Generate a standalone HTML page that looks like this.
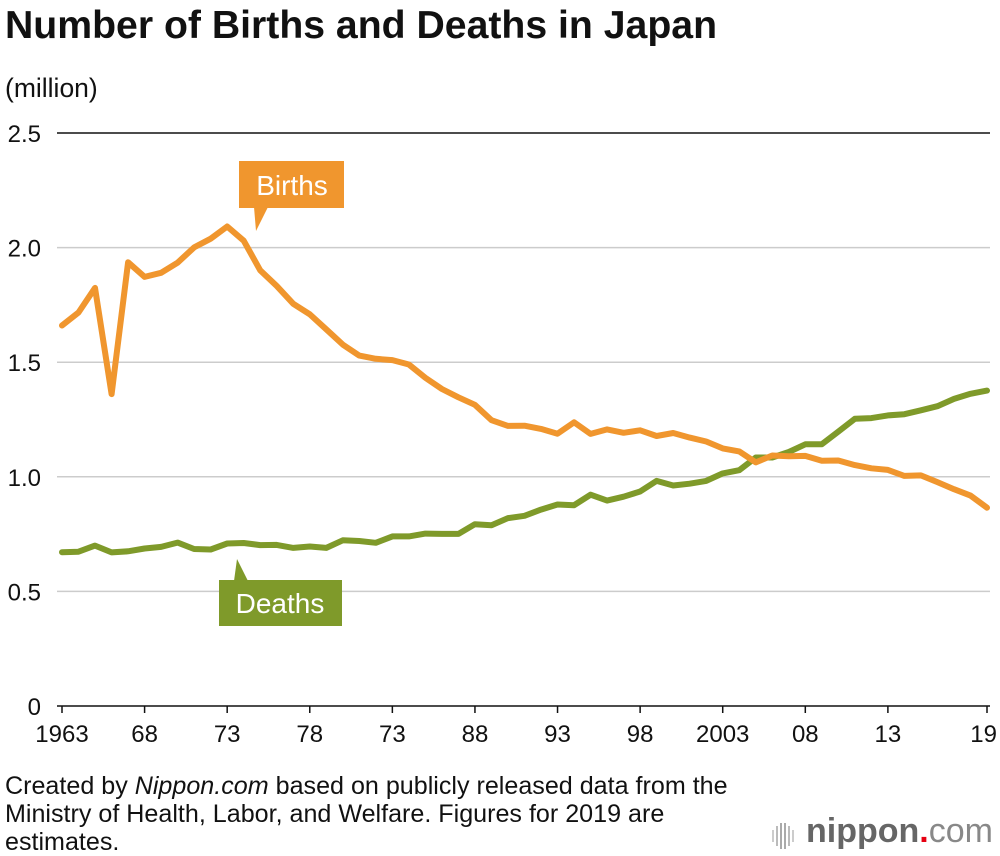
<!DOCTYPE html>
<html><head><meta charset="utf-8"><style>
body{margin:0;background:#fff;font-family:"Liberation Sans",sans-serif;}
#wrap{position:relative;width:1000px;height:856px;overflow:hidden;}
.t{position:absolute;margin:0;white-space:nowrap;}
</style></head><body>
<div id="wrap">
<div class="t" style="left:5px;top:4px;font-size:39.2px;font-weight:bold;color:#111;">Number of Births and Deaths in Japan</div>
<div class="t" style="left:5px;top:73px;font-size:26.5px;color:#111;">(million)</div>
<svg id="chart" width="1000" height="760" style="position:absolute;left:0;top:0" font-family="Liberation Sans, sans-serif"></svg>
<div class="t" style="left:5px;top:772px;font-size:25.1px;line-height:28px;color:#111;">Created by <i>Nippon.com</i> based on publicly released data from the<br>Ministry of Health, Labor, and Welfare. Figures for 2019 are<br>estimates.</div>
<div class="t" style="left:772px;top:816px;width:228px;height:36px;">
<svg width="26" height="34" style="position:absolute;left:0;top:3px">
<rect x="0" y="11" width="2" height="12" fill="#ccc"/><rect x="4" y="7" width="2" height="20" fill="#bbb"/><rect x="8" y="4" width="2" height="26" fill="#aaa"/><rect x="12" y="4" width="2" height="26" fill="#aaa"/><rect x="16" y="7" width="2" height="20" fill="#bbb"/><rect x="20" y="11" width="2" height="12" fill="#ccc"/></svg>
<span style="position:absolute;left:34px;top:-4px;font-size:34px;color:#666;font-weight:bold;">nippon<span style="color:#e60012">.</span><span style="font-weight:normal;color:#888">com</span></span>
</div>
</div>
<script>
const years=[];for(let y=1963;y<=2019;y++)years.push(y);
const births=[1.660,1.717,1.824,1.361,1.936,1.872,1.890,1.934,2.001,2.039,2.092,2.030,1.901,1.833,1.755,1.709,1.643,1.577,1.529,1.515,1.509,1.490,1.432,1.383,1.347,1.314,1.247,1.222,1.223,1.209,1.188,1.238,1.187,1.207,1.192,1.203,1.178,1.191,1.171,1.154,1.124,1.111,1.063,1.093,1.090,1.091,1.070,1.071,1.051,1.037,1.030,1.004,1.006,0.977,0.946,0.918,0.865];
const deaths=[0.671,0.673,0.700,0.670,0.675,0.687,0.694,0.713,0.685,0.683,0.709,0.711,0.702,0.703,0.690,0.696,0.690,0.723,0.720,0.712,0.740,0.740,0.752,0.751,0.751,0.793,0.789,0.820,0.830,0.857,0.879,0.876,0.922,0.896,0.913,0.936,0.982,0.962,0.970,0.982,1.015,1.029,1.084,1.084,1.108,1.142,1.142,1.197,1.253,1.256,1.268,1.273,1.290,1.308,1.340,1.362,1.376];
const yTicks=[0,0.5,1.0,1.5,2.0,2.5];
const yTickLabels=["0","0.5","1.0","1.5","2.0","2.5"];
const xTickYears=[1963,1968,1973,1978,1983,1988,1993,1998,2003,2008,2013,2019];
const xTickLabels=["1963","68","73","78","73","88","93","98","2003","08","13","19"];
const X=y=>62+(y-1963)*(987-62)/56;
const Y=v=>706-v*229.2;
const svg=document.getElementById('chart');const NS='http://www.w3.org/2000/svg';
function mk(t,a,p){const e=document.createElementNS(NS,t);for(const k in a)e.setAttribute(k,a[k]);(p||svg).appendChild(e);return e;}
yTicks.forEach((v,i)=>{
 const edge=(v===0||v===2.5);
 const l=mk('line',{x1:57,x2:990,y1:Y(v),y2:Y(v),stroke:edge?'#111':'#ccc','stroke-width':1.5});
 
 
 const t=mk('text',{x:41,y:Y(v)+9,'font-size':24,fill:'#111','text-anchor':'end'});t.textContent=yTickLabels[i];
 
 
});
xTickYears.forEach((yr,i)=>{
 const x=X(yr);
 const tk=mk('line',{x1:x,x2:x,y1:706,y2:713,stroke:'#111','stroke-width':1.5});
 
 
 const last=i===xTickYears.length-1;
 const t=mk('text',{x:last?x+10:x,y:742,'font-size':24,fill:'#111','text-anchor':last?'end':'middle'});t.textContent=xTickLabels[i];
 
 
});
function line(data,color,name){
 const d=data.map((v,i)=>(i?'L':'M')+X(years[i]).toFixed(1)+','+Y(v).toFixed(1)).join('');
 const p=mk('path',{d:d,fill:'none',stroke:color,'stroke-width':6,'stroke-linejoin':'round','stroke-linecap':'round'});
 
 
}
line(deaths,'#7f9a2a','deaths-line');
line(births,'#f0962e','births-line');
const bg=mk('g',{});


mk('rect',{x:239,y:161,width:105,height:47,fill:'#f0962e'},bg);
mk('polygon',{points:'254,207 268,207 256,231',fill:'#f0962e'},bg);
const bt=mk('text',{x:292,y:195,'font-size':28,fill:'#fff','text-anchor':'middle'},bg);bt.textContent='Births';
const dg=mk('g',{});


mk('rect',{x:219,y:580,width:123,height:46,fill:'#7f9a2a'},dg);
mk('polygon',{points:'234,581 248,581 237,559',fill:'#7f9a2a'},dg);
const dt=mk('text',{x:280,y:613,'font-size':28,fill:'#fff','text-anchor':'middle'},dg);dt.textContent='Deaths';
</script>
</body></html>
